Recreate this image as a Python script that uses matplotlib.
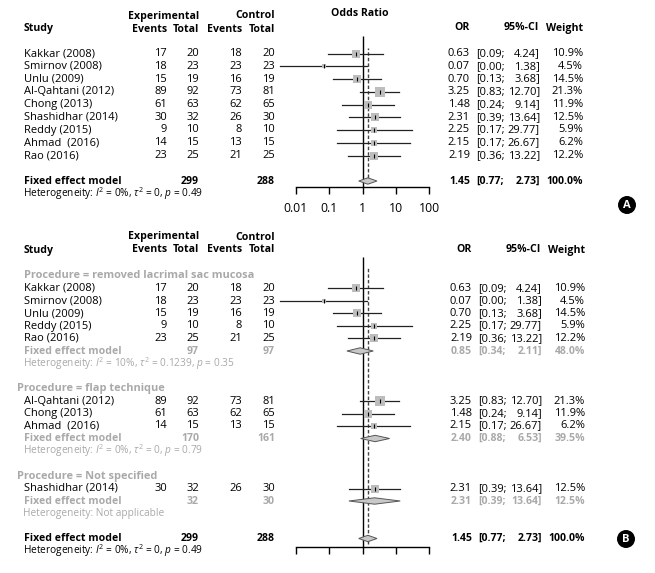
import matplotlib
matplotlib.use("Agg")
import matplotlib.pyplot as plt
from matplotlib.patches import Polygon

plt.rcParams['font.family'] = ['Open Sans', 'DejaVu Sans']
plt.rcParams['mathtext.fontset'] = 'custom'
plt.rcParams['mathtext.rm'] = 'Open Sans'
plt.rcParams['mathtext.it'] = 'Open Sans:italic'
plt.rcParams['mathtext.bf'] = 'Open Sans:bold'

# ---------------- data ----------------
studies = ["Kakkar (2008)", "Smirnov (2008)", "Unlu (2009)", "Al-Qahtani (2012)",
           "Chong (2013)", "Shashidhar (2014)", "Reddy (2015)", "Ahmad  (2016)", "Rao (2016)"]
exp_events = [17, 18, 15, 89, 61, 30, 9, 14, 23]
exp_total = [20, 23, 19, 92, 63, 32, 10, 15, 25]
ctrl_events = [18, 23, 16, 73, 62, 26, 8, 13, 21]
ctrl_total = [20, 23, 19, 81, 65, 30, 10, 15, 25]
odds_ratio = [0.63, 0.07, 0.70, 3.25, 1.48, 2.31, 2.25, 2.15, 2.19]
ci_low = [0.09, 0.0034, 0.13, 0.83, 0.24, 0.39, 0.17, 0.17, 0.36]
ci_high = [4.24, 1.38, 3.68, 12.70, 9.14, 13.64, 29.77, 26.67, 13.22]
weight = [10.9, 4.5, 14.5, 21.3, 11.9, 12.5, 5.9, 6.2, 12.2]

sub_names = ["Procedure = removed lacrimal sac mucosa", "Procedure = flap technique",
             "Procedure = Not specified"]
sub_members = [[0, 1, 2, 6, 8], [3, 4, 7], [5]]
sub_exp_total = [97, 170, 32]
sub_ctrl_total = [97, 161, 30]
sub_or = [0.85, 2.40, 2.31]
sub_low = [0.34, 0.88, 0.39]
sub_high = [2.11, 6.53, 13.64]
sub_weight = [48.0, 39.5, 12.5]
sub_het = [r"Heterogeneity: $I^2$ = 10%, $\tau^2$ = 0.1239, $p$ = 0.35",
           r"Heterogeneity: $I^2$ = 0%, $\tau^2$ = 0, $p$ = 0.79",
           "Heterogeneity: Not applicable"]

overall_exp_total = 299
overall_ctrl_total = 288
overall_or = 1.45
overall_low = 0.77
overall_high = 2.73
overall_weight = 100.0
overall_het = r"Heterogeneity: $I^2$ = 0%, $\tau^2$ = 0, $p$ = 0.49"

xticks = [0.01, 0.1, 1, 10, 100]
xticklabels = ["0.01", "0.1", "1", "10", "100"]

# ---------------- style ----------------
W, H = 655, 573
GRAY = "#a9a9a9"
SQ = "#bdbdbd"
FS = 8.0
FS_B = 7.6
FS_HET = 7.3

fig = plt.figure(figsize=(W / 100, H / 100), dpi=100)
canvas = fig.add_axes([0, 0, 1, 1])
canvas.set_xlim(0, W)
canvas.set_ylim(H, 0)
canvas.axis("off")

X_STUDY = 24
X_EE, X_ET, X_CE, X_CT = 167, 199, 242, 275
X_OR, X_CIL, X_CIR, X_W = 470, 476, 540, 583
FX_L, FX_R = 296, 429


def txt(x, y, s, ha="left", color="black", bold=False, size=None):
    if size is None:
        size = FS_B if bold else FS
    canvas.text(x, y, s, ha=ha, va="center", color=color, fontsize=size,
                fontweight="bold" if bold else "normal")


def headers(y1, y2, ystudy, dx=0):
    txt(X_STUDY, ystudy, "Study", bold=True)
    txt(X_ET, y1, "Experimental", ha="right", bold=True)
    txt(X_EE, y2, "Events", ha="right", bold=True)
    txt(X_ET, y2, "Total", ha="right", bold=True)
    txt(X_CT, y1, "Control", ha="right", bold=True)
    txt(X_CE, y2, "Events", ha="right", bold=True)
    txt(X_CT, y2, "Total", ha="right", bold=True)
    txt(462 + dx, ystudy, "OR", ha="center", bold=True)
    txt(X_CIR - 1 + dx, ystudy, "95%-CI", ha="right", bold=True)
    txt(X_W + dx, ystudy, "Weight", ha="right", bold=True)


def right_cols(y, o, lo, hi, w, color="black", bold=False, dx=0):
    txt(X_OR + dx, y, f"{o:.2f}", ha="right", color=color, bold=bold)
    txt(X_CIL + dx, y, f"[{lo:.2f};", color=color, bold=bold)
    txt(X_CIR + dx, y, f"{hi:.2f}]", ha="right", color=color, bold=bold)
    txt(X_W + dx, y, f"{w:.1f}%", ha="right", color=color, bold=bold)


def study_row(y, i, dx=0):
    txt(X_STUDY, y, studies[i])
    txt(X_EE, y, str(exp_events[i]), ha="right")
    txt(X_ET, y, str(exp_total[i]), ha="right")
    txt(X_CE, y, str(ctrl_events[i]), ha="right")
    txt(X_CT, y, str(ctrl_total[i]), ha="right")
    right_cols(y, odds_ratio[i], ci_low[i], ci_high[i], weight[i], dx=dx)


def forest_axes(ytop, ybot, show_labels):
    ax = fig.add_axes([FX_L / W, 1 - ybot / H, (FX_R - FX_L) / W, (ybot - ytop) / H])
    ax.set_xscale("log")
    ax.set_xlim(0.01, 100)
    ax.set_ylim(ybot, ytop)
    ax.patch.set_alpha(0)
    for s in ["left", "right", "top"]:
        ax.spines[s].set_visible(False)
    ax.spines["bottom"].set_linewidth(1.0)
    ax.set_yticks([])
    ax.set_xticks(xticks)
    ax.set_xticklabels(xticklabels)
    ax.minorticks_off()
    ax.tick_params(axis="x", direction="out", length=5, width=1.0, pad=6,
                   labelsize=8.8, labelbottom=show_labels)
    return ax


def study_mark(ax, y, i):
    ax.plot([ci_low[i], ci_high[i]], [y, y], color="#222222", lw=0.9, clip_on=False, zorder=2)
    ax.scatter([odds_ratio[i]], [y], marker="s", s=2.7 * weight[i], color=SQ,
               linewidths=0, zorder=3, clip_on=False)
    ax.scatter([odds_ratio[i]], [y], marker="|", s=8, color="black", linewidths=0.8, zorder=4)


def diamond(ax, y, o, lo, hi, h=3.2):
    ax.add_patch(Polygon([(lo, y), (o, y - h), (hi, y), (o, y + h)], closed=True,
                         facecolor="#c8c8c8", edgecolor="#555555", lw=0.7, zorder=3))


def badge(x, y, s):
    canvas.text(x, y, s, ha="center", va="center", color="white", fontsize=8,
                fontweight="bold",
                bbox=dict(boxstyle="circle,pad=0.25", fc="black", ec="black"))


# ---------------- Panel A ----------------
headers(16, 29, 28)
canvas.text(360, 14, "Odds Ratio", ha="center", va="center", fontsize=FS_B, fontweight="bold")
rowA = 12.75
yA0 = 53.5
axA = forest_axes(30, 187, True)
for k in range(len(studies)):
    y = yA0 + k * rowA
    study_row(y, k)
    study_mark(axA, y, k)
yfix = yA0 + 10 * rowA
txt(X_STUDY, yfix, "Fixed effect model", bold=True)
txt(X_ET, yfix, str(overall_exp_total), ha="right", bold=True)
txt(X_CT, yfix, str(overall_ctrl_total), ha="right", bold=True)
right_cols(yfix, overall_or, overall_low, overall_high, overall_weight, bold=True)
txt(X_STUDY - 1, yfix + rowA, overall_het, size=FS_HET)
diamond(axA, yfix, overall_or, overall_low, overall_high)
axA.vlines(1, 187, 36, color="black", lw=1.0, zorder=1)
axA.vlines(overall_or, 183, 48, color="#444444", lw=1.0, linestyles=(0, (2.5, 1.5)), zorder=1)
badge(627, 205, "A")

# ---------------- Panel B ----------------
dxB = 2
headers(237, 250, 250, dx=dxB)
rowB = 12.5
yB0 = 276
axB = forest_axes(250, 547, False)
sub_label_x = [24, 17, 17]
r = 0
for g in range(len(sub_names)):
    y = yB0 + r * rowB
    canvas.text(sub_label_x[g], y, sub_names[g], ha="left", va="center", color=GRAY,
                fontsize=FS_B + 0.3, fontweight="bold")
    r += 1
    for i in sub_members[g]:
        y = yB0 + r * rowB
        study_row(y, i, dx=dxB)
        study_mark(axB, y, i)
        r += 1
    y = yB0 + r * rowB
    txt(X_STUDY, y, "Fixed effect model", color=GRAY, bold=True)
    txt(X_ET, y, str(sub_exp_total[g]), ha="right", color=GRAY, bold=True)
    txt(X_CT, y, str(sub_ctrl_total[g]), ha="right", color=GRAY, bold=True)
    right_cols(y, sub_or[g], sub_low[g], sub_high[g], sub_weight[g], color=GRAY, bold=True, dx=dxB)
    diamond(axB, y, sub_or[g], sub_low[g], sub_high[g])
    r += 1
    txt(X_STUDY - 1, yB0 + r * rowB, sub_het[g], color=GRAY, size=FS_HET)
    r += 2
y = yB0 + r * rowB
txt(X_STUDY, y, "Fixed effect model", bold=True)
txt(X_ET, y, str(overall_exp_total), ha="right", bold=True)
txt(X_CT, y, str(overall_ctrl_total), ha="right", bold=True)
right_cols(y, overall_or, overall_low, overall_high, overall_weight, bold=True, dx=dxB)
diamond(axB, y, overall_or, overall_low, overall_high)
txt(X_STUDY - 1, y + rowB, overall_het, size=FS_HET)
axB.vlines(1, 547, 257, color="black", lw=1.0, zorder=1)
axB.vlines(overall_or, 544, 268, color="#444444", lw=1.0, linestyles=(0, (2.5, 1.5)), zorder=1)
badge(626, 539, "B")

fig.savefig("out.png", dpi=100)
